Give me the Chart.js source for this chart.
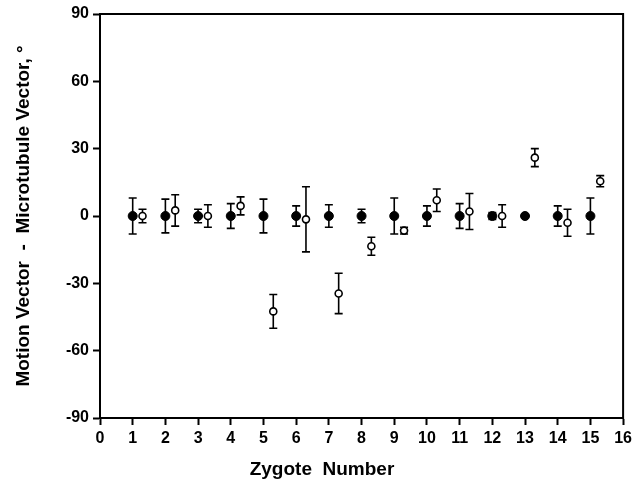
<!DOCTYPE html>
<html>
<head>
<meta charset="utf-8">
<script src="https://cdn.jsdelivr.net/npm/chart.js@4/dist/chart.umd.min.js"></script>
<style>
  body { margin: 0; background: #fff; }
  #wrap { width: 636px; height: 490px; }
</style>
</head>
<body>
<div id="wrap"><canvas id="graf"></canvas></div>
<script>
// data
const zygotes = [1, 2, 3, 4, 5, 6, 7, 8, 9, 10, 11, 12, 13, 14, 15];
const filledMean = [0, 0, 0, 0, 0, 0, 0, 0, 0, 0, 0, 0, 0, 0, 0];
const filledErr = [8, 7.5, 3, 5.5, 7.5, 4.5, 5, 3, 8, 4.5, 5.5, 1.5, 0, 4.5, 8];
const openMean = [0, 2.5, 0, 4.5, -42.5, -1.5, -34.5, -13.5, -6.5, 7, 2, 0, 26, -3, 15.5];
const openErr = [3, 7, 5, 4, 7.5, 14.5, 9, 4, 1.5, 5, 8, 5, 4, 6, 2.5];
const xTicks = [0, 1, 2, 3, 4, 5, 6, 7, 8, 9, 10, 11, 12, 13, 14, 15, 16];
const yTicks = [-90, -60, -30, 0, 30, 60, 90];

const fonte = 'Liberation Sans, Arial, Helvetica, sans-serif';

// error bars under the points + box round the plot + x title
const extras = {
    id: 'extras',
    beforeDatasetsDraw(chart) {
        const ctx = chart.ctx;
        const ys = chart.scales.y;
        ctx.save();
        ctx.strokeStyle = '#000';
        ctx.lineWidth = 1.6;
        chart.data.datasets.forEach(function (ds, i) {
            const meta = chart.getDatasetMeta(i);
            meta.data.forEach(function (pt, j) {
                const e = ds.errs[j];
                if (!e) return;
                const top = ys.getPixelForValue(ds.data[j].y + e);
                const bot = ys.getPixelForValue(ds.data[j].y - e);
                ctx.beginPath();
                ctx.moveTo(pt.x, top); ctx.lineTo(pt.x, bot);
                ctx.moveTo(pt.x - 4, top); ctx.lineTo(pt.x + 4, top);
                ctx.moveTo(pt.x - 4, bot); ctx.lineTo(pt.x + 4, bot);
                ctx.stroke();
            });
        });
        ctx.restore();
    },
    afterDraw(chart) {
        const ctx = chart.ctx;
        const a = chart.chartArea;
        ctx.save();
        ctx.strokeStyle = '#000';
        ctx.lineWidth = 2;
        ctx.strokeRect(a.left, a.top, a.right - a.left, a.bottom - a.top);
        ctx.fillStyle = '#000';
        ctx.font = 'bold 19px ' + fonte;
        ctx.textAlign = 'center';
        ctx.textBaseline = 'middle';
        ctx.fillText('Zygote  Number', 322, 470);
        ctx.restore();
    }
};

function grafico() {
    const el = document.getElementById('graf');
    new Chart(el, {
        type: 'scatter',
        data: {
            datasets: [{
                label: 'filled',
                data: zygotes.map((z, i) => ({ x: z, y: filledMean[i] })),
                errs: filledErr,
                pointRadius: 4.5,
                pointBackgroundColor: '#000',
                pointBorderColor: '#000',
                pointBorderWidth: 1
            }, {
                label: 'open',
                data: zygotes.map((z, i) => ({ x: z + 0.3, y: openMean[i] })),
                errs: openErr,
                pointRadius: 3.5,
                pointBackgroundColor: '#fff',
                pointBorderColor: '#000',
                pointBorderWidth: 1.6
            }]
        },
        options: {
            responsive: true,
            maintainAspectRatio: false,
            animation: false,
            plugins: {
                legend: { display: false },
                tooltip: { enabled: false }
            },
            layout: {
                padding: { left: 0, right: 12, top: 14, bottom: 0 }
            },
            scales: {
                x: {
                    type: 'linear',
                    min: 0,
                    max: 16,
                    afterBuildTicks: (s) => { s.ticks = xTicks.map(v => ({ value: v })); },
                    afterFit: (s) => { s.height = 72; },
                    grid: { drawOnChartArea: false, drawTicks: true, tickLength: 7, color: '#000', tickWidth: 2 },
                    border: { display: true, color: '#000', width: 2 },
                    ticks: { color: '#000', font: { family: fonte, size: 16, weight: 'bold' }, padding: 4, maxRotation: 0 }
                },
                y: {
                    min: -90,
                    max: 90,
                    afterBuildTicks: (s) => { s.ticks = yTicks.map(v => ({ value: v })); },
                    afterFit: (s) => { s.width = 100; },
                    grid: { drawOnChartArea: false, drawTicks: true, tickLength: 7, color: '#000', tickWidth: 2 },
                    border: { display: true, color: '#000', width: 2 },
                    ticks: { color: '#000', font: { family: fonte, size: 16, weight: 'bold' }, padding: 4 },
                    title: {
                        display: true,
                        text: 'Motion Vector  -  Microtubule Vector, °',
                        color: '#000',
                        font: { family: fonte, size: 19, weight: 'bold' },
                        padding: { top: 12, bottom: 4 }
                    }
                }
            }
        },
        plugins: [extras]
    });
}

grafico();
</script>
</body>
</html>
